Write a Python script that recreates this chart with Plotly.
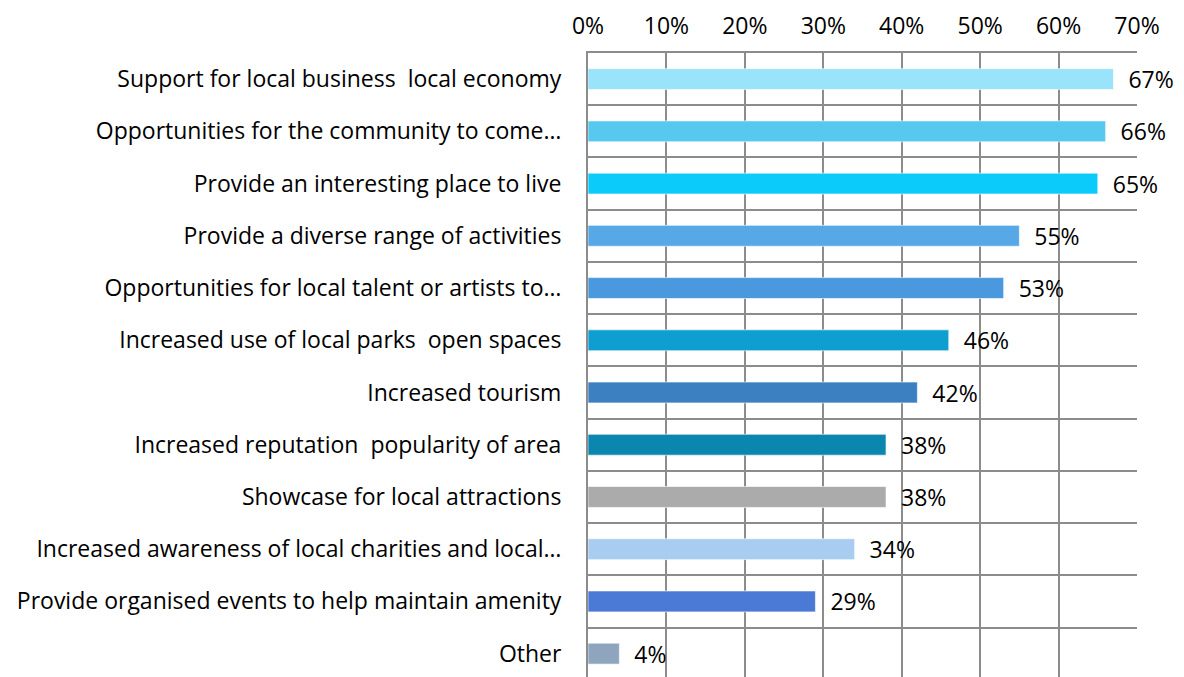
import plotly.graph_objects as go

categories = [
    "Support for local business  local economy",
    "Opportunities for the community to come…",
    "Provide an interesting place to live",
    "Provide a diverse range of activities",
    "Opportunities for local talent or artists to…",
    "Increased use of local parks  open spaces",
    "Increased tourism",
    "Increased reputation  popularity of area",
    "Showcase for local attractions",
    "Increased awareness of local charities and local…",
    "Provide organised events to help maintain amenity",
    "Other",
]
values = [67, 66, 65, 55, 53, 46, 42, 38, 38, 34, 29, 4]
bar_colors = [
    "#99E3FB", "#57C8EE", "#0BCBFB", "#56A9E6", "#4A98DD", "#0E9FD0",
    "#3D80C2", "#0B86AE", "#ABABAB", "#A8CDF0", "#4A7AD6", "#8FA4BD",
]
x_ticks = [0, 10, 20, 30, 40, 50, 60, 70]

FONT = "Open Sans"
FS = 23

fig = go.Figure(go.Bar(
    y=categories,
    x=values,
    orientation="h",
    marker=dict(color=bar_colors, line=dict(width=1, color="rgba(255,255,255,0.6)")),
    text=[f"{v}%" for v in values],
    texttemplate="  %{text}",
    textposition="outside",
    constraintext="none",
    textfont=dict(size=FS, color="#000000", family=FONT),
    cliponaxis=False,
))

n = len(categories)
fig.update_layout(
    width=1184, height=677,
    margin=dict(l=580, r=55, t=45, b=0),
    paper_bgcolor="white", plot_bgcolor="white",
    bargap=0.6,
    showlegend=False,
    font=dict(family=FONT, size=FS, color="#000000"),
    xaxis=dict(
        side="top", range=[0, 70], tickvals=x_ticks,
        ticktext=[f"{t}%" for t in x_ticks],
        showgrid=True, gridcolor="#8C8C8C", gridwidth=2,
        zeroline=False, showline=True, linecolor="#8C8C8C", linewidth=2,
        ticks="", ticklabelstandoff=8, automargin=False,
        tickfont=dict(size=FS),
    ),
    yaxis=dict(
        type="category", categoryorder="array", categoryarray=categories,
        range=[n - 0.4, -0.5],
        tickson="boundaries", showgrid=True, gridcolor="#8C8C8C", gridwidth=2,
        showline=True, linecolor="#8C8C8C", linewidth=2,
        ticks="", ticklabelstandoff=20, automargin=False,
        tickfont=dict(size=FS),
    ),
)

fig.write_html("out.html")
